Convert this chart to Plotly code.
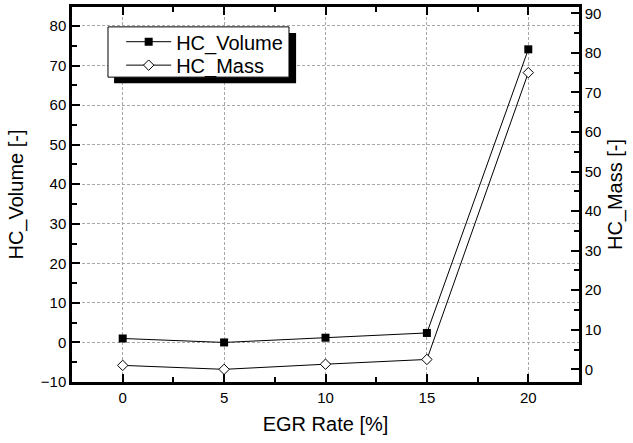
import plotly.graph_objects as go

egr_rate = [0, 5, 10, 15, 20]
hc_volume = [1.0, 0.0, 1.2, 2.4, 74.1]
hc_mass = [1.0, 0.0, 1.3, 2.5, 75.0]

FONT = "Liberation Sans, Arial, sans-serif"

fig = go.Figure()
fig.add_trace(go.Scatter(
    x=egr_rate, y=hc_volume, name="HC_Volume", mode="lines+markers",
    line=dict(color="black", width=1),
    marker=dict(symbol="square", size=8, color="black"),
    yaxis="y", legend="legend"))
fig.add_trace(go.Scatter(
    x=egr_rate, y=hc_mass, name="HC_Mass", mode="lines+markers",
    line=dict(color="black", width=1),
    marker=dict(symbol="diamond", size=8, color="white", line=dict(color="black", width=1)),
    yaxis="y2", legend="legend2"))

axis_common = dict(
    showline=True, linecolor="black", linewidth=2.5,
    ticks="inside", ticklen=8, tickwidth=2, tickcolor="black",
    tickfont=dict(family=FONT, size=15, color="black"),
    zeroline=False, automargin=False,
)
grid = dict(showgrid=True, gridcolor="#a8a8a8", griddash="3px,2px", gridwidth=1)
minor_y = dict(dtick=5, tick0=0, ticks="inside", ticklen=5, tickwidth=2, tickcolor="black", showgrid=False)

leg_common = dict(
    xanchor="left", yanchor="middle",
    bgcolor="rgba(0,0,0,0)", borderwidth=0,
    font=dict(family=FONT, size=20, color="black"),
    itemwidth=45,
)

fig.update_layout(
    width=633, height=443,
    margin=dict(l=72, r=54, t=7, b=61, autoexpand=False),
    paper_bgcolor="white", plot_bgcolor="white",
    font=dict(family=FONT, color="black"),
    showlegend=True,
    xaxis=dict(
        **axis_common, **grid,
        range=[-2.5, 22.5], tickvals=[0, 5, 10, 15, 20], mirror="ticks",
        minor=dict(dtick=2.5, tick0=0, ticks="inside", ticklen=5, tickwidth=2, tickcolor="black", showgrid=False),
        title=dict(text="EGR Rate [%]", font=dict(family=FONT, size=20, color="black"), standoff=13),
    ),
    yaxis=dict(
        **axis_common, **grid,
        range=[-10, 84.8], tickvals=list(range(-10, 81, 10)),
        minor=minor_y,
        title=dict(text="HC_Volume [-]", font=dict(family=FONT, size=20, color="black"), standoff=12),
    ),
    yaxis2=dict(
        **axis_common,
        overlaying="y", side="right", anchor="x",
        range=[-3.2, 91.6], tickvals=list(range(0, 91, 10)),
        showgrid=False,
        minor=minor_y,
        title=dict(text="HC_Mass [-]", font=dict(family=FONT, size=20, color="black"), standoff=8),
    ),
    legend=dict(x=0.097, y=0.9075, **leg_common),
    legend2=dict(x=0.097, y=0.845, **leg_common),
    shapes=[
        dict(type="rect", xref="paper", yref="paper", x0=0.083, x1=0.442, y0=0.797, y1=0.931,
             fillcolor="black", line=dict(width=0), layer="above"),
        dict(type="rect", xref="paper", yref="paper", x0=0.071, x1=0.428, y0=0.813, y1=0.947,
             fillcolor="white", line=dict(color="black", width=1), layer="above"),
    ],
)

fig.write_html("out.html", post_script="document.body.style.margin='0';",
               config={"displayModeBar": False})
